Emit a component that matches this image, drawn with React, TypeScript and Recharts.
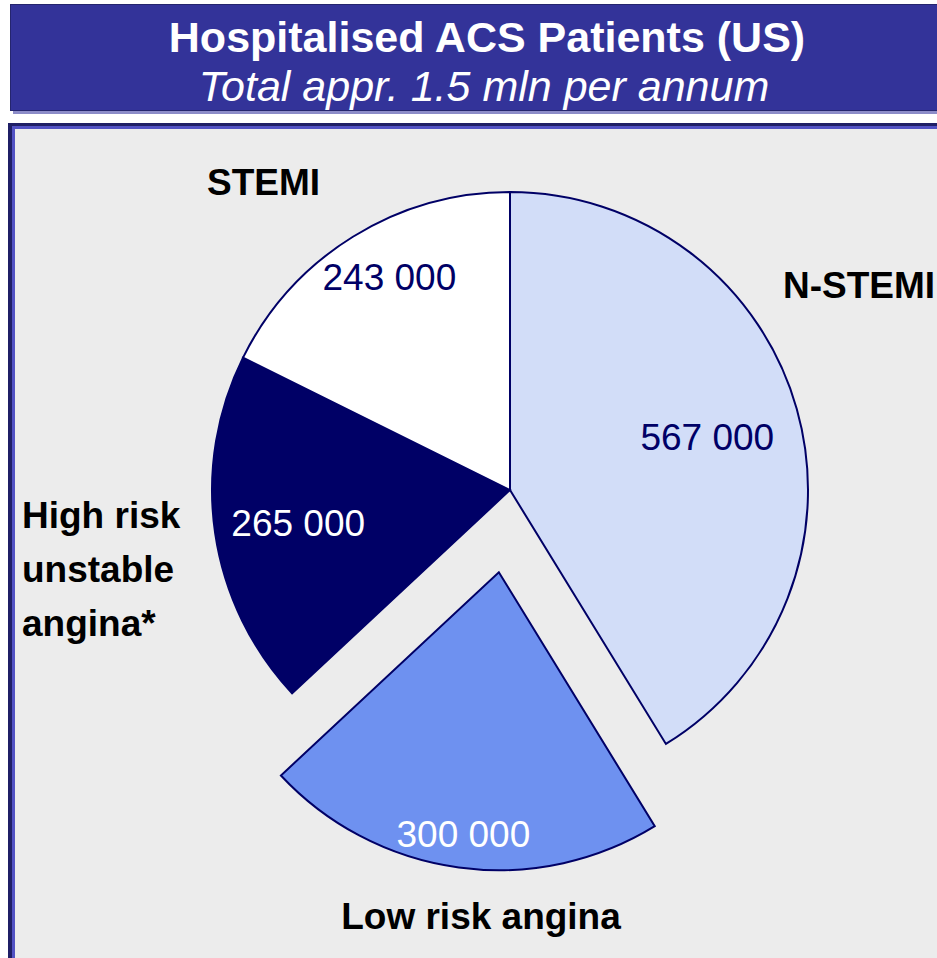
import React from 'react';
import { PieChart, Pie, Cell } from 'recharts';

// ---- Data ----
const categories = ['N-STEMI', 'Low risk angina', 'High risk\nunstable\nangina*', 'STEMI'];
const patients = [567000, 300000, 265000, 243000];
const valueLabels = ['567 000', '300 000', '265 000', '243 000'];
const explodedCategory = 'Low risk angina';
const titleText = 'Hospitalised ACS Patients (US)';
const subtitleText = 'Total appr. 1.5 mln per annum';

// ---- Styles ----
const W = 937;
const H = 958;
const FONT = '"Liberation Sans", Arial, sans-serif';
const FILLS = ['#d2ddf8', '#6e91f0', '#000066', '#ffffff'];
const LABEL_COLORS = ['#000066', '#ffffff', '#ffffff', '#000066'];
const LABEL_R = [205, 264, 214, 244];
const LABEL_DX = [0, 0, 0, 8];
const LABEL_DY = [2, 0, 2, -6];
const VALUE_FONT = 37;
const CAT_FONT = 37;
const CX = 510;
const CY = 490;
const R = 298;
const EXPLODE = 83;
const OUTSIDE_POS: Record<string, { x: number; y: number; anchor: 'start' | 'middle' | 'end' }> = {
  'N-STEMI': { x: 783, y: 298, anchor: 'start' },
  'Low risk angina': { x: 481, y: 929, anchor: 'middle' },
  'High risk\nunstable\nangina*': { x: 22, y: 528, anchor: 'start' },
  STEMI: { x: 207, y: 195, anchor: 'start' },
};

const data = categories.map((c, i) => ({ name: c, value: patients[i], label: valueLabels[i] }));
const explodedIdx = categories.indexOf(explodedCategory);

// offset of the exploded slice along its mid angle
const total = patients.reduce((a, b) => a + b, 0);
const before = patients.slice(0, explodedIdx).reduce((a, b) => a + b, 0);
const startA = 90 - (360 * before) / total;
const midA = startA - (360 * patients[explodedIdx]) / total / 2;
const RAD = Math.PI / 180;
const EX_CX = CX + EXPLODE * Math.cos(midA * RAD);
const EX_CY = CY - EXPLODE * Math.sin(midA * RAD);

const makeLabel = (show: (i: number) => boolean) => (props: any) => {
  const { cx, cy, midAngle, index } = props;
  if (!show(index)) return null;
  const r = LABEL_R[index];
  const x = cx + r * Math.cos(-midAngle * RAD) + LABEL_DX[index];
  const y = cy + r * Math.sin(-midAngle * RAD) + 0.358 * VALUE_FONT + LABEL_DY[index];
  return (
    <text
      x={x}
      y={y}
      textAnchor="middle"
      fill={LABEL_COLORS[index]}
      fontFamily={FONT}
      fontSize={VALUE_FONT}
    >
      {data[index].label}
    </text>
  );
};

export default function App() {
  return (
    <div style={{ position: 'absolute', left: 0, top: 0, width: W, height: H, overflow: 'hidden', background: '#ffffff' }}>
      <svg width={W} height={H} style={{ position: 'absolute', left: 0, top: 0 }}>
        {/* title box */}
        <rect x={13} y={108} width={940} height={6} fill="#8c8cc8" />
        <rect x={10.5} y={4.5} width={940} height={106} fill="#333399" stroke="#25256e" strokeWidth={1} />
        <text x={487} y={52} textAnchor="middle" fill="#ffffff" fontFamily={FONT} fontWeight="bold" fontSize={43}>
          {titleText}
        </text>
        <text x={484} y={101} textAnchor="middle" fill="#ffffff" fontFamily={FONT} fontStyle="italic" fontSize={43}>
          {subtitleText}
        </text>
        {/* panel */}
        <rect x={8} y={123} width={940} height={850} fill="#1f1f66" />
        <rect x={12} y={126} width={940} height={850} fill="#5252c4" />
        <rect x={15} y={129} width={940} height={850} fill="#ececec" />
        {/* category labels */}
        {categories.map((c) => {
          const p = OUTSIDE_POS[c];
          const lines = c.split('\n');
          return (
            <text key={c} x={p.x} y={p.y} textAnchor={p.anchor} fill="#000000" fontFamily={FONT} fontWeight="bold" fontSize={CAT_FONT}>
              {lines.map((l, k) => (
                <tspan key={k} x={p.x} dy={k === 0 ? 0 : 54}>
                  {l}
                </tspan>
              ))}
            </text>
          );
        })}
      </svg>
      <div style={{ position: 'absolute', left: 0, top: 0 }}>
        <PieChart width={W} height={H} margin={{ top: 0, right: 0, bottom: 0, left: 0 }}>
          <Pie
            data={data}
            dataKey="value"
            nameKey="name"
            cx={CX}
            cy={CY}
            outerRadius={R}
            startAngle={90}
            endAngle={-270}
            isAnimationActive={false}
            labelLine={false}
            label={makeLabel((i) => i !== explodedIdx)}
            stroke="#000066"
            strokeWidth={2}
          >
            {data.map((d, i) => (
              <Cell
                key={d.name}
                fill={i === explodedIdx ? 'none' : FILLS[i]}
                stroke={i === explodedIdx ? 'none' : '#000066'}
                strokeWidth={2}
              />
            ))}
          </Pie>
          <Pie
            data={data}
            dataKey="value"
            nameKey="name"
            cx={EX_CX}
            cy={EX_CY}
            outerRadius={R}
            startAngle={90}
            endAngle={-270}
            isAnimationActive={false}
            labelLine={false}
            label={makeLabel((i) => i === explodedIdx)}
            stroke="#000066"
            strokeWidth={2}
          >
            {data.map((d, i) => (
              <Cell
                key={d.name}
                fill={i === explodedIdx ? FILLS[i] : 'none'}
                stroke={i === explodedIdx ? '#000066' : 'none'}
                strokeWidth={2}
              />
            ))}
          </Pie>
        </PieChart>
      </div>
    </div>
  );
}
